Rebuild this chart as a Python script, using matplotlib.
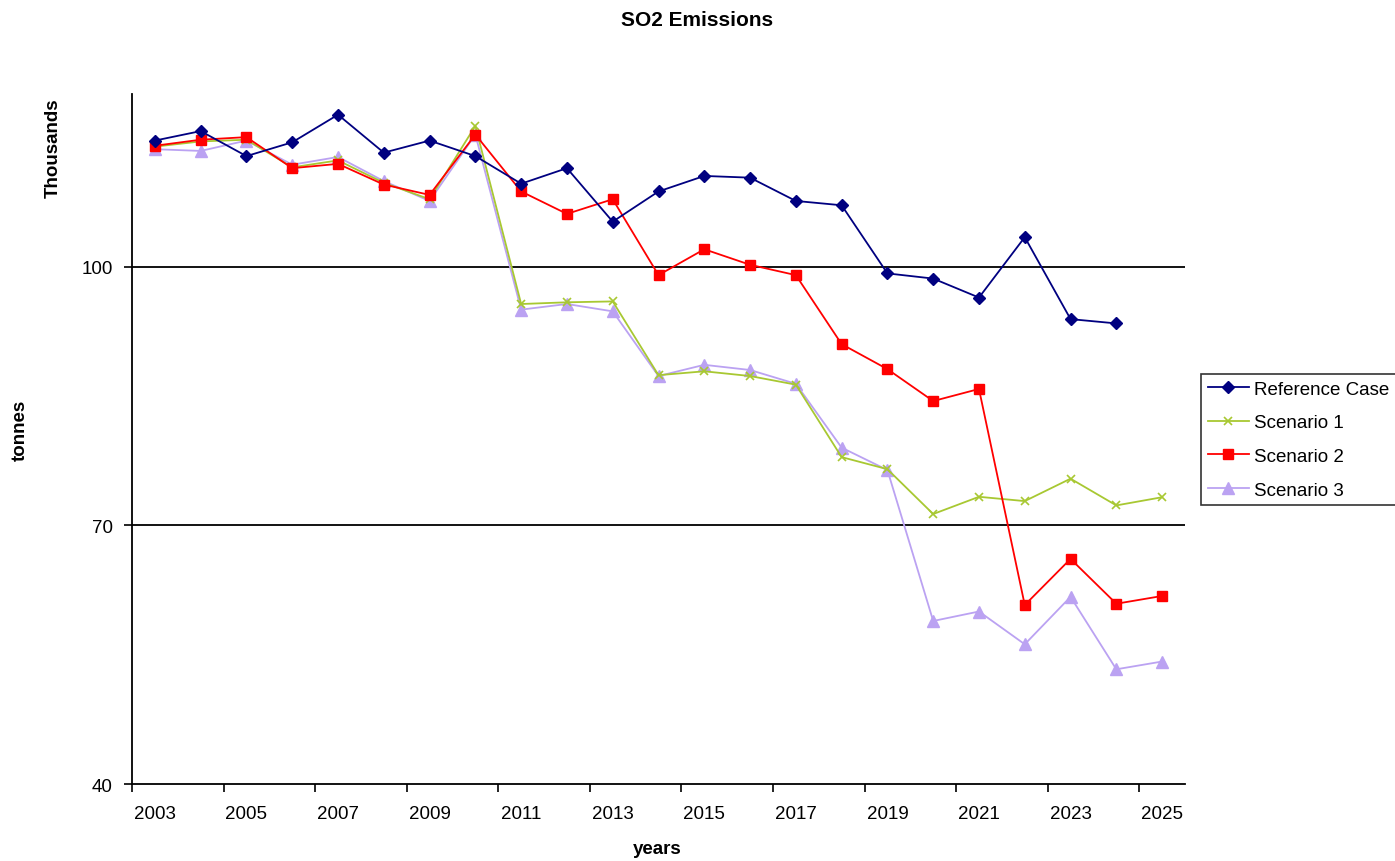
import matplotlib
matplotlib.use("Agg")
import matplotlib.pyplot as plt
from matplotlib.ticker import FixedLocator

plt.rcParams['font.family'] = ['Liberation Sans', 'DejaVu Sans']

years = list(range(2003, 2026))
reference_case = [114.6, 115.7, 112.8, 114.4, 117.6, 113.2, 114.6, 112.8, 109.6, 111.4,
                  105.2, 108.7, 110.5, 110.3, 107.6, 107.1, 99.2, 98.6, 96.4, 103.4,
                  93.9, 93.4]
scenario_1 = [113.9, 114.5, 114.7, 111.5, 112.3, 109.7, 107.8, 116.3, 95.65, 95.85,
              95.95, 87.4, 87.85, 87.3, 86.3, 77.9, 76.5, 71.3, 73.3, 72.8,
              75.4, 72.3, 73.25]
scenario_2 = [114.0, 114.7, 115.0, 111.4, 111.9, 109.5, 108.3, 115.3, 108.7, 106.1,
              107.8, 99.0, 102.0, 100.2, 99.0, 91.0, 88.1, 84.4, 85.8, 60.75,
              66.1, 60.9, 61.8]
scenario_3 = [113.6, 113.4, 114.6, 111.8, 112.7, 109.9, 107.6, 115.3, 95.0, 95.65,
              94.8, 87.3, 88.6, 88.0, 86.4, 79.0, 76.4, 58.9, 60.0, 56.2,
              61.7, 53.3, 54.2]
y_ticks = [40, 70, 100]

W, H = 1395, 862
fig = plt.figure(figsize=(W / 100, H / 100), dpi=100)
ax = fig.add_axes([132 / W, 1 - 785 / H, (1185 - 132) / W, (785 - 95) / H])

idx = list(range(len(years)))
ax.plot(idx[:len(reference_case)], reference_case, color='#000080', lw=1.3,
        marker='D', ms=6.5, label='Reference Case', zorder=5)
ax.plot(idx, scenario_1, color='#A8C832', lw=1.3, marker='x', ms=6, mew=1.2,
        label='Scenario 1', zorder=3)
ax.plot(idx, scenario_2, color='#FF0000', lw=1.3, marker='s', ms=7,
        label='Scenario 2', zorder=4)
ax.plot(idx, scenario_3, color='#BBA2F2', lw=1.3, marker='^', ms=8,
        label='Scenario 3', zorder=2)

ax.set_xlim(-0.5, len(years) - 0.5)
ax.set_ylim(40, 120)
ax.set_yticks(y_ticks)
ax.set_yticklabels([str(v) for v in y_ticks])
for v in y_ticks[1:]:
    ax.axhline(v, color='black', lw=1.3, zorder=1)

ax.set_xticks(idx[::2])
ax.set_xticklabels([str(y) for y in years[::2]])
ax.xaxis.set_minor_locator(FixedLocator([i - 0.5 for i in range(0, len(years) + 1, 2)]))
ax.tick_params(axis='x', which='major', length=0, pad=15, labelsize=13.5)
ax.tick_params(axis='x', which='minor', length=6, width=1.2, direction='out')
ax.tick_params(axis='y', which='major', length=6, width=1.2, direction='out',
               pad=8, labelsize=13.5)

for s in ['top', 'right']:
    ax.spines[s].set_visible(False)
for s in ['left', 'bottom']:
    ax.spines[s].set_linewidth(1.3)
    ax.spines[s].set_color('black')

fig.text(697 / W, 1 - 21 / H, 'SO2 Emissions', ha='center', va='center',
         fontsize=15, fontweight='bold')
fig.text(657 / W, 1 - 850 / H, 'years', ha='center', va='center',
         fontsize=13.5, fontweight='bold')
fig.text(20 / W, 1 - 430 / H, 'tonnes', ha='center', va='center',
         fontsize=13.5, fontweight='bold', rotation=90)
fig.text(53 / W, 1 - 148 / H, 'Thousands', ha='center', va='center',
         fontsize=13.5, fontweight='bold', rotation=90)

leg = fig.legend(loc='upper left', bbox_to_anchor=(1201 / W, 1 - 375 / H),
                 frameon=True, fancybox=False, fontsize=13.5, handlelength=2.2,
                 borderpad=0.35, labelspacing=0.88, handletextpad=0.3,
                 borderaxespad=0)
leg.get_frame().set_edgecolor('black')
leg.get_frame().set_linewidth(1.2)

fig.savefig('out.png', dpi=100)
